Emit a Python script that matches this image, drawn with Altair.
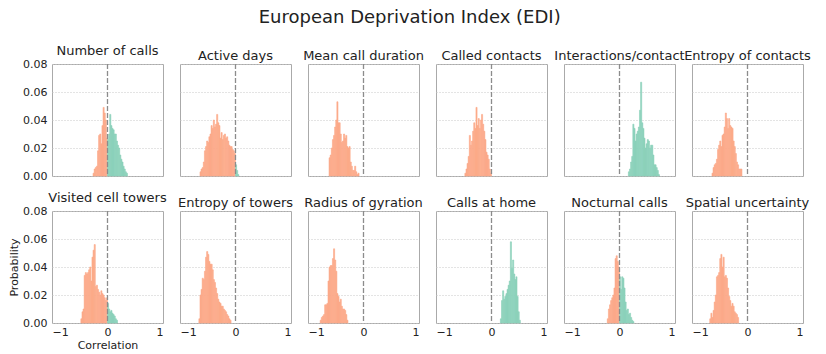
import altair as alt
import pandas as pd

# Panel titles (row-major order) and histogram data (bin width 0.02)
titles = ["Number of calls", "Active days", "Mean call duration", "Called contacts",
          "Interactions/contact", "Entropy of contacts", "Visited cell towers",
          "Entropy of towers", "Radius of gyration", "Calls at home",
          "Nocturnal calls", "Spatial uncertainty"]

# first bin start for each panel
bin_starts = [-0.26, -0.64, -0.62, -0.48, 0.16, -0.64, -0.48, -0.66, -0.78, 0.16, -0.22, -0.68]

number_of_calls = [0.002, 0.005, 0.006, 0.007, 0.018, 0.029, 0.030, 0.023, 0.036, 0.049, 0.045, 0.040, 0.027,
                   0.026, 0.030, 0.044, 0.036, 0.034, 0.033, 0.030, 0.030, 0.025, 0.022, 0.020, 0.015,
                   0.012, 0.010, 0.007, 0.005, 0.003, 0.002]
active_days = [0.003, 0.005, 0.006, 0.010, 0.018, 0.021, 0.025, 0.024, 0.028, 0.030, 0.036, 0.034, 0.040,
               0.035, 0.037, 0.044, 0.038, 0.036, 0.027, 0.031, 0.026, 0.029, 0.030, 0.027, 0.028, 0.025,
               0.022, 0.021, 0.021, 0.019, 0.018, 0.016, 0.008, 0.004, 0.001]
mean_call_duration = [0.013, 0.015, 0.020, 0.026, 0.029, 0.035, 0.040, 0.053, 0.038, 0.038, 0.030, 0.024,
                      0.025, 0.030, 0.027, 0.029, 0.021, 0.020, 0.021, 0.010, 0.007, 0.004, 0.004, 0.007,
                      0.003, 0.001, 0.002]
called_contacts = [0.002, 0.005, 0.009, 0.014, 0.029, 0.022, 0.025, 0.032, 0.038, 0.034, 0.049, 0.036,
                   0.041, 0.034, 0.040, 0.044, 0.037, 0.032, 0.026, 0.017, 0.015, 0.012, 0.005, 0.002]
interactions_contact = [0.003, 0.005, 0.010, 0.014, 0.037, 0.034, 0.025, 0.030, 0.032, 0.035, 0.047, 0.067,
                        0.038, 0.034, 0.027, 0.020, 0.023, 0.026, 0.025, 0.020, 0.022, 0.022, 0.015, 0.008,
                        0.008, 0.006, 0.004, 0.001]
entropy_contacts = [0.002, 0.006, 0.008, 0.009, 0.012, 0.019, 0.022, 0.025, 0.021, 0.029, 0.030, 0.035,
                    0.045, 0.041, 0.034, 0.041, 0.036, 0.035, 0.034, 0.025, 0.021, 0.016, 0.010, 0.008,
                    0.005, 0.005, 0.005]
visited_towers = [0.003, 0.008, 0.010, 0.034, 0.036, 0.035, 0.036, 0.038, 0.040, 0.030, 0.047, 0.052,
                  0.056, 0.026, 0.027, 0.024, 0.022, 0.020, 0.023, 0.021, 0.020, 0.018, 0.016, 0.018,
                  0.014, 0.010, 0.008, 0.009, 0.007, 0.006, 0.005, 0.003, 0.002]
entropy_towers = [0.003, 0.020, 0.024, 0.032, 0.031, 0.037, 0.047, 0.051, 0.049, 0.044, 0.042, 0.042,
                  0.038, 0.031, 0.029, 0.025, 0.021, 0.017, 0.015, 0.014, 0.012, 0.012, 0.010, 0.009,
                  0.008, 0.006, 0.005, 0.003, 0.002]
radius_gyration = [0.002, 0.004, 0.005, 0.006, 0.013, 0.013, 0.014, 0.030, 0.040, 0.041, 0.041, 0.046,
                   0.053, 0.045, 0.037, 0.021, 0.019, 0.015, 0.017, 0.012, 0.010, 0.010, 0.009, 0.006, 0.002]
calls_home = [0.003, 0.016, 0.023, 0.017, 0.019, 0.021, 0.024, 0.027, 0.030, 0.058, 0.039, 0.045,
              0.035, 0.031, 0.033, 0.019, 0.008, 0.002]
nocturnal_calls = [0.003, 0.010, 0.013, 0.016, 0.018, 0.020, 0.025, 0.046, 0.048, 0.044, 0.040,
                   0.033, 0.024, 0.033, 0.032, 0.025, 0.015, 0.009, 0.010, 0.006, 0.007, 0.004, 0.002, 0.001]
spatial_uncertainty = [0.003, 0.007, 0.004, 0.009, 0.015, 0.020, 0.033, 0.034, 0.036, 0.046, 0.049, 0.040,
                       0.047, 0.033, 0.034, 0.032, 0.025, 0.019, 0.016, 0.012, 0.014, 0.012, 0.008, 0.007,
                       0.006, 0.004]

series = [number_of_calls, active_days, mean_call_duration, called_contacts, interactions_contact,
          entropy_contacts, visited_towers, entropy_towers, radius_gyration, calls_home,
          nocturnal_calls, spatial_uncertainty]

BW = 0.02
records = []
for name, s0, vals in zip(titles, bin_starts, series):
    for i, v in enumerate(vals):
        a = round(s0 + BW * i, 4)
        records.append({"panel": name, "x0": a, "x1": round(a + BW, 4), "p": v, "base": 0.0,
                        "sign": "neg" if a < -1e-9 else "pos"})
df = pd.DataFrame(records)
zero_line = pd.DataFrame({"z": [0.0]})

ORANGE = "#fcaa89"
GREEN = "#8cd1bb"
FONT = "DejaVu Sans"
TXT = "#222222"
W, H = 111, 112

minus_expr = "datum.value < 0 ? '\u2212' + format(-datum.value, 'd') : format(datum.value, 'd')"
sign_scale = alt.Scale(domain=["neg", "pos"], range=[ORANGE, GREEN])


def panel(name, row, col):
    xaxis = alt.Axis(values=[-1, 0, 1], labelExpr=minus_expr, labels=(row == 1), ticks=False,
                     domain=False, grid=False, labelPadding=3, labelFontSize=11,
                     title=("Correlation" if (row == 1 and col == 0) else None), titlePadding=2,
                     titleFontSize=11, titleFontWeight="normal", titleX=W / 2, titleAlign="center")
    yaxis = alt.Axis(values=[0, 0.02, 0.04, 0.06, 0.08], format=".2f", labels=(col == 0),
                     ticks=False, domain=False, grid=True, gridDash=[1, 2], gridColor="#c8c8c8",
                     gridWidth=1, labelPadding=5, labelFontSize=11,
                     title=("Probability" if (row == 1 and col == 0) else None), titlePadding=3,
                     titleFontSize=11, titleFontWeight="normal")
    bars = alt.Chart(df).transform_filter(alt.datum.panel == name).mark_rect(strokeWidth=0.6).encode(
        x=alt.X("x0:Q", scale=alt.Scale(domain=[-1, 1], nice=False, zero=False), axis=xaxis),
        x2="x1:Q",
        y=alt.Y("p:Q", scale=alt.Scale(domain=[0, 0.08], nice=False), axis=yaxis),
        y2="base:Q",
        color=alt.Color("sign:N", scale=sign_scale, legend=None),
        stroke=alt.Stroke("sign:N", scale=sign_scale, legend=None),
    )
    rule = alt.Chart(zero_line).mark_rule(color="#8c8c8c", strokeDash=[5, 2], strokeWidth=1.3).encode(
        x=alt.X(datum=0)
    )
    return alt.layer(bars, rule).properties(
        width=W, height=H,
        title=alt.TitleParams(name, fontSize=13, font=FONT, fontWeight="normal", color=TXT,
                              offset=0, frame="group", anchor="middle"),
    )


row1 = alt.hconcat(*[panel(titles[c], 0, c) for c in range(6)], spacing=17, bounds="flush")
row2 = alt.hconcat(*[panel(titles[6 + c], 1, c) for c in range(6)], spacing=17, bounds="flush")

chart = alt.vconcat(row1, row2, spacing=9).properties(
    title=alt.TitleParams("European Deprivation Index (EDI)", fontSize=18, font=FONT,
                          fontWeight="normal", color=TXT, anchor="middle", offset=18),
    padding={"left": 0, "top": 0, "right": 5, "bottom": 0},
).configure_view(
    stroke="#aaaaaa", strokeWidth=1
).configure_axis(
    labelFont=FONT, titleFont=FONT, labelColor=TXT, titleColor=TXT
)

chart.save("out.html", embed_options={"renderer": "svg", "actions": False})
